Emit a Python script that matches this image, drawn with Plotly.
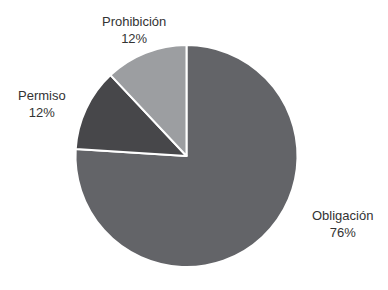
import plotly.graph_objects as go

labels = ["Obligación", "Permiso", "Prohibición"]
values = [76, 12, 12]
colors = ["#636468", "#47474a", "#9c9ea1"]

W, H = 388, 290
cx, cy, r = 186.5, 156, 111

# label centres (page pixels), one per category, in the same order as labels
label_pos = [(342, 224), (41.5, 104), (134, 30)]

fig = go.Figure(go.Pie(
    labels=labels,
    values=values,
    sort=False,
    direction="clockwise",
    rotation=0,
    marker=dict(colors=colors, line=dict(color="white", width=2)),
    textinfo="none",
    domain=dict(x=[(cx - r) / W, (cx + r) / W], y=[(H - cy - r) / H, (H - cy + r) / H]),
    showlegend=False,
    hoverinfo="label+percent",
))

for lab, val, (px, py) in zip(labels, values, label_pos):
    fig.add_annotation(
        x=px / W, y=1 - py / H, xref="paper", yref="paper",
        xanchor="center", yanchor="middle",
        text=f"{lab}<br>{val}%",
        showarrow=False,
        font=dict(family="Liberation Sans, Arial, sans-serif", size=13, color="#333333"),
    )

fig.update_layout(
    width=W, height=H,
    margin=dict(l=0, r=0, t=0, b=0),
    paper_bgcolor="white",
    plot_bgcolor="white",
)

fig.write_html("out.html", config={"displayModeBar": False},
               post_script="document.body.style.margin='0';")
